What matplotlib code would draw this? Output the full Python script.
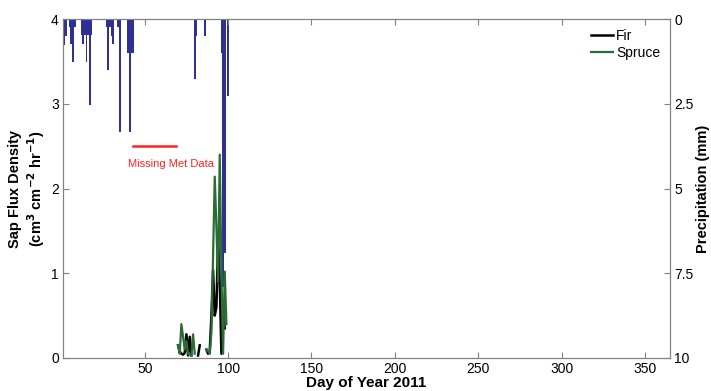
import numpy as np
import matplotlib
matplotlib.use('Agg')
import matplotlib.pyplot as plt

plt.rcParams['font.family'] = ['Liberation Sans', 'DejaVu Sans']

nan = np.nan

# Precipitation (mm), bars hanging from the top
precip_day = [2, 3, 5, 6, 7, 8, 12, 13, 14, 15, 16, 17, 18, 27, 28, 29, 30, 31,
              34, 35, 40, 41, 42, 43, 80, 81, 86, 96, 97, 98, 100]
precip_mm = [0.77, 0.5, 0.24, 0.74, 1.27, 0.24, 0.47, 0.74, 0.47, 1.27, 0.47, 2.54, 0.47,
             0.24, 1.5, 0.24, 0.5, 0.74, 0.24, 3.33, 1.0, 3.33, 1.0, 1.0,
             1.77, 0.5, 0.5, 1.0, 7.9, 6.9, 2.27]

# Sap flux density, daily values (NaN = no data)
sap_day = list(range(70, 100))
fir = [0.15, 0.08, 0.05, 0.04, 0.06, 0.28, 0.03, 0.25, 0.03, nan,
       nan, nan, 0.03, 0.15, nan, nan, nan, 0.10, 0.05, 0.08,
       0.50, 1.04, 0.50, 0.60, 1.39, 0.90, 0.05, 0.60, 0.35, nan]
spruce = [0.15, 0.05, 0.40, 0.25, 0.10, 0.20, 0.05, 0.04, 0.03, 0.28,
          0.05, nan, nan, nan, nan, nan, nan, 0.10, 0.08, 0.05,
          0.30, 1.20, 2.14, 1.55, 0.90, 2.40, 1.00, 0.05, 1.02, 0.40]

fig = plt.figure(figsize=(7.11, 3.91), dpi=100)
ax = fig.add_axes([0.0886, 0.0844, 0.8537, 0.867])
ax2 = ax.twinx()

ax2.bar(precip_day, precip_mm, width=1.0, color='#2e3192', edgecolor='none')
ax2.set_ylim(10, 0)
ax2.set_yticks([0, 2.5, 5, 7.5, 10])
ax2.set_yticklabels(['0', '2.5', '5', '7.5', '10'])
ax2.set_ylabel('Precipitation (mm)', fontsize=10.5, fontweight='bold')
ax2.yaxis.set_label_coords(1.043, 0.5)

ax.set_zorder(ax2.get_zorder() + 1)
ax.patch.set_visible(False)

ax.plot(sap_day, fir, color='black', lw=1.8, label='Fir')
ax.plot(sap_day, spruce, color='#2a6b36', lw=1.6, label='Spruce')

ax.plot([43, 69], [2.5, 2.5], color='#ff2020', lw=1.8)
ax.text(40, 2.29, 'Missing Met Data', color='#ff2020', fontsize=8, ha='left', va='center')

ax.set_xlim(1, 365)
ax.set_ylim(0, 4)
ax.set_xticks([50, 100, 150, 200, 250, 300, 350])
ax.set_yticks([0, 1, 2, 3, 4])
ax.set_xlabel('Day of Year 2011', fontsize=11, fontweight='bold', labelpad=0)
ax.set_ylabel('Sap Flux Density\n(cm$^\\mathbf{3}$ cm$^\\mathbf{-2}$ hr$^\\mathbf{-1}$)',
              fontsize=10.5, fontweight='bold')
ax.yaxis.set_label_coords(-0.027, 0.5)

for a in (ax, ax2):
    for s in a.spines.values():
        s.set_color('#808080')
    a.tick_params(direction='in', length=4, color='#808080', labelsize=10, pad=3)
ax.tick_params(axis='x', top=True)

leg = ax.legend(loc='upper right', frameon=False, fontsize=10, handlelength=1.6,
                handletextpad=0.2, borderaxespad=0.3, labelspacing=0.2)

fig.savefig('out.png', dpi=100)
